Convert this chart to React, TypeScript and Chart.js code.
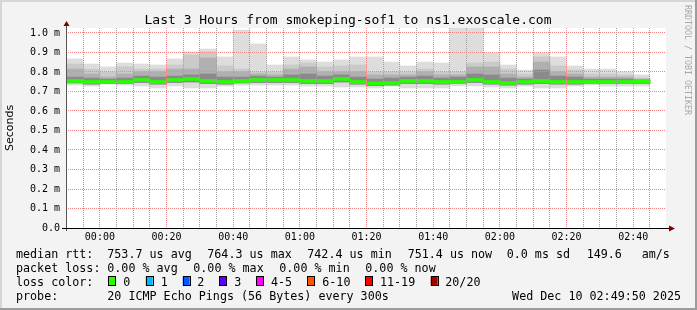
import React, { useEffect, useRef } from "react";
import { Chart, registerables } from "chart.js";

Chart.register(...registerables);

// ---------- data ----------
const graphTitle = "Last 3 Hours from smokeping-sof1 to ns1.exoscale.com";
const rangeStart = "23:49:50";
const rangeEnd = "02:49:50";

// 5-minute RRD steps (start time of each step)
const binStarts = [
  "23:50", "23:55", "00:00", "00:05", "00:10", "00:15", "00:20", "00:25", "00:30", "00:35",
  "00:40", "00:45", "00:50", "00:55", "01:00", "01:05", "01:10", "01:15", "01:20", "01:25",
  "01:30", "01:35", "01:40", "01:45", "01:50", "01:55", "02:00", "02:05", "02:10", "02:15",
  "02:20", "02:25", "02:30", "02:35", "02:40",
];
// 5-minute grid lines
const minorGridTimes = [
  "23:55", "00:00", "00:05", "00:10", "00:15", "00:20", "00:25", "00:30", "00:35", "00:40",
  "00:45", "00:50", "00:55", "01:00", "01:05", "01:10", "01:15", "01:20", "01:25", "01:30",
  "01:35", "01:40", "01:45", "01:50", "01:55", "02:00", "02:05", "02:10", "02:15", "02:20",
  "02:25", "02:30", "02:35", "02:40", "02:45",
];

// values in milliseconds
const medianRtt = [
  0.754, 0.749, 0.749, 0.749, 0.759, 0.749, 0.759, 0.764, 0.754, 0.749,
  0.754, 0.759, 0.759, 0.759, 0.754, 0.754, 0.764, 0.749, 0.742, 0.744,
  0.754, 0.754, 0.749, 0.749, 0.759, 0.749, 0.744, 0.749, 0.754, 0.749,
  0.749, 0.749, 0.749, 0.749, 0.751,
];
const smokeTop = [
  0.867, 0.841, 0.826, 0.846, 0.841, 0.836, 0.867, 0.903, 0.918, 0.877,
  1.015, 0.944, 0.836, 0.877, 0.862, 0.851, 0.862, 0.877, 0.877, 0.851,
  0.831, 0.851, 0.846, 1.090, 1.070, 0.897, 0.836, 0.810, 0.897, 0.877,
  0.831, 0.815, 0.815, 0.800, 0.785,
];
const smokeUpper = [
  0.841, 0.815, 0.800, 0.826, 0.815, 0.815, 0.836, 0.887, 0.903, 0.831,
  0.815, 0.800, 0.800, 0.836, 0.846, 0.826, 0.831, 0.836, 0.800, 0.800,
  0.800, 0.815, 0.800, 0.800, 0.846, 0.851, 0.815, 0.790, 0.877, 0.831,
  0.810, 0.790, 0.790, 0.785, 0.769,
];
const smokeMid = [
  0.815, 0.790, 0.774, 0.790, 0.800, 0.800, 0.815, 0.815, 0.872, 0.800,
  0.800, 0.790, 0.785, 0.815, 0.826, 0.800, 0.800, 0.800, 0.785, 0.785,
  0.785, 0.800, 0.785, 0.785, 0.826, 0.826, 0.790, 0.774, 0.851, 0.800,
  0.790, 0.774, 0.774, 0.774, 0.764,
];
const smokeInner = [
  0.774, 0.769, 0.764, 0.769, 0.779, 0.774, 0.779, 0.785, 0.790, 0.774,
  0.774, 0.779, 0.774, 0.785, 0.790, 0.779, 0.785, 0.774, 0.764, 0.769,
  0.774, 0.779, 0.769, 0.774, 0.790, 0.785, 0.769, 0.764, 0.810, 0.779,
  0.774, 0.764, 0.764, 0.764, 0.759,
];
const smokeLowInner = [
  0.744, 0.738, 0.741, 0.740, 0.746, 0.738, 0.746, 0.749, 0.741, 0.738,
  0.744, 0.746, 0.746, 0.746, 0.741, 0.741, 0.749, 0.738, 0.730, 0.733,
  0.741, 0.741, 0.738, 0.741, 0.746, 0.738, 0.733, 0.738, 0.741, 0.738,
  0.738, 0.741, 0.741, 0.741, 0.741,
];
const smokeBottom = [
  0.733, 0.728, 0.738, 0.733, 0.728, 0.718, 0.728, 0.718, 0.718, 0.728,
  0.733, 0.733, 0.733, 0.733, 0.728, 0.728, 0.723, 0.723, 0.718, 0.728,
  0.718, 0.718, 0.718, 0.728, 0.728, 0.723, 0.718, 0.728, 0.718, 0.718,
  0.728, 0.733, 0.728, 0.728, 0.728,
];

const yTickValues = [0, 0.1, 0.2, 0.3, 0.4, 0.5, 0.6, 0.7, 0.8, 0.9, 1.0];
const yTickLabels = ["0.0", "0.1 m", "0.2 m", "0.3 m", "0.4 m", "0.5 m", "0.6 m", "0.7 m", "0.8 m", "0.9 m", "1.0 m"];
const xTickLabels = ["00:00", "00:20", "00:40", "01:00", "01:20", "01:40", "02:00", "02:20", "02:40"];

const lossLabels = ["0", "1", "2", "3", "4-5", "6-10", "11-19", "20/20"];
const lossColors = ["#26ff00", "#00b8ff", "#0059ff", "#5e00ff", "#ff00ff", "#ff5500", "#ff0000", "#a10000"];

const legendRtt = ["median rtt:", "753.7 us avg", "764.3 us max", "742.4 us min", "751.4 us now", "0.0 ms sd", "149.6", "am/s"];
const legendLoss = ["packet loss:", "0.00 % avg", "0.00 % max", "0.00 % min", "0.00 % now"];
const probeText = ["probe:", "20 ICMP Echo Pings (56 Bytes) every 300s", "Wed Dec 10 02:49:50 2025"];
const watermark = "RRDTOOL / TOBI OETIKER";

// ---------- layout / style ----------
const W = 697;
const H = 310;
const PLOT_TOP = 28;
const PLOT_BOTTOM = 228;
const MONO = "'DejaVu Sans Mono', 'Liberation Mono', monospace";
const SANS = "'DejaVu Sans', 'Liberation Sans', sans-serif";
const MEDIAN_HALF = 0.0075;
const MAJOR_GRID = "rgb(240,135,135)";
const MINOR_GRID = "rgb(160,160,160)";

function toMinutes(t: string): number {
  const p = t.split(":").map(Number);
  let m = p[0] * 60 + p[1] + (p[2] || 0) / 60;
  if (p[0] >= 12) m -= 1440;
  return m;
}

function bars(lo: number[], hi: number[]) {
  return binStarts.map((t, i) => ({ x: toMinutes(t) + 2.5, y: [lo[i], hi[i]] }));
}

const decorPlugin = {
  id: "decor",
  beforeDraw(chart: any) {
    const { ctx, chartArea: a } = chart;
    ctx.save();
    ctx.fillStyle = "#f3f3f3";
    ctx.fillRect(0, 0, W, H);
    ctx.fillStyle = "#ffffff";
    ctx.fillRect(a.left, a.top, a.right - a.left, a.bottom - a.top);
    ctx.restore();
  },
  afterDatasetsDraw(chart: any) {
    // vertical time grid, positioned by the x scale
    const { ctx, chartArea: a } = chart;
    const xs = chart.scales.x;
    const top = Math.round(a.top);
    const bottom = Math.round(a.bottom);
    const majors = new Set(xTickLabels);
    ctx.save();
    ctx.lineWidth = 1;
    ctx.setLineDash([1, 1]);
    minorGridTimes.forEach((t) => {
      const px = Math.floor(xs.getPixelForValue(toMinutes(t)) + 0.01) + 0.5;
      ctx.strokeStyle = majors.has(t) ? MAJOR_GRID : MINOR_GRID;
      ctx.beginPath();
      ctx.moveTo(px, top);
      ctx.lineTo(px, bottom);
      ctx.stroke();
    });
    ctx.restore();
  },
  afterDraw(chart: any) {
    const { ctx, chartArea: a } = chart;
    ctx.save();
    // axes
    ctx.strokeStyle = "#555555";
    ctx.lineWidth = 1;
    ctx.beginPath();
    ctx.moveTo(Math.floor(a.left) + 0.5, a.bottom + 3);
    ctx.lineTo(Math.floor(a.left) + 0.5, a.top - 4);
    ctx.stroke();
    ctx.strokeStyle = "#000000";
    ctx.beginPath();
    ctx.moveTo(a.left - 4, Math.floor(a.bottom) + 0.5);
    ctx.lineTo(a.right + 6, Math.floor(a.bottom) + 0.5);
    ctx.stroke();
    // arrows
    ctx.fillStyle = "#7f0000";
    const ax = Math.floor(a.left) + 0.5;
    ctx.beginPath();
    ctx.moveTo(ax - 3, a.top - 2);
    ctx.lineTo(ax + 3, a.top - 2);
    ctx.lineTo(ax, a.top - 7);
    ctx.closePath();
    ctx.fill();
    const ay = Math.floor(a.bottom) + 0.5;
    ctx.beginPath();
    ctx.moveTo(a.right + 3, ay - 3);
    ctx.lineTo(a.right + 3, ay + 3);
    ctx.lineTo(a.right + 9, ay);
    ctx.closePath();
    ctx.fill();

    // title
    ctx.fillStyle = "#000";
    ctx.font = `13px ${MONO}`;
    ctx.textAlign = "center";
    ctx.textBaseline = "alphabetic";
    ctx.fillText(graphTitle, 348, 23.5);

    // legend
    ctx.font = `11.7px ${MONO}`;
    ctx.textAlign = "left";
    const rttX = [16, 107.3, 207.3, 307.3, 407.7, 506.7, 586.7, 641.7];
    legendRtt.forEach((s, i) => ctx.fillText(s, rttX[i], 258));
    const lossX = [16, 107.3, 193.3, 279.3, 365.3];
    legendLoss.forEach((s, i) => ctx.fillText(s, lossX[i], 272));
    ctx.fillText("loss color:", 16, 286);
    const boxX = [108.3, 145.7, 182.7, 219.3, 256, 307.3, 365.3, 430.7];
    const labX = [123.3, 160.7, 197.3, 234.3, 271, 322.3, 380, 445.3];
    lossLabels.forEach((s, i) => {
      ctx.fillStyle = lossColors[i];
      ctx.fillRect(boxX[i], 276.5, 7, 9);
      ctx.strokeStyle = "#000";
      ctx.strokeRect(Math.round(boxX[i]) + 0.5, 276.5, 7, 9);
      ctx.fillStyle = "#000";
      ctx.fillText(s, labX[i], 286);
    });
    ctx.fillText(probeText[0], 16, 300);
    ctx.fillText(probeText[1], 107.3, 300);
    ctx.textAlign = "right";
    ctx.fillText(probeText[2], 681, 300);

    // watermark
    ctx.save();
    ctx.translate(687, 5);
    ctx.rotate(Math.PI / 2);
    ctx.font = `8.3px ${MONO}`;
    ctx.fillStyle = "#a8a8a8";
    ctx.textAlign = "left";
    ctx.textBaseline = "middle";
    ctx.fillText(watermark, 0, 0);
    ctx.restore();

    // 3d frame
    ctx.fillStyle = "#d6d6d6";
    ctx.fillRect(0, 0, W, 2);
    ctx.fillRect(0, 0, 2, H);
    ctx.fillStyle = "#9c9c9c";
    ctx.fillRect(W - 2, 0, 2, H);
    ctx.fillRect(0, H - 2, W, 2);
    ctx.restore();
  },
};

export default function App() {
  const ref = useRef<HTMLCanvasElement>(null);

  useEffect(() => {
    const canvas = ref.current;
    if (!canvas) return;
    const xMin = toMinutes(rangeStart);
    const xMax = toMinutes(rangeEnd);
    const majorValues = xTickLabels.map(toMinutes);

    const layers = [
      { lo: smokeBottom, hi: smokeTop, color: "#dddddd" },
      { lo: smokeLowInner, hi: smokeUpper, color: "#cacaca" },
      { lo: smokeLowInner, hi: smokeMid, color: "#b0b0b0" },
      { lo: smokeLowInner, hi: smokeInner, color: "#8a8a8a" },
    ];
    const datasets: any[] = layers.map((l, i) => ({
      label: "smoke" + i,
      data: bars(l.lo, l.hi),
      backgroundColor: l.color,
      borderWidth: 0,
      grouped: false,
      barPercentage: 1,
      categoryPercentage: 1,
      order: 10 - i,
    }));
    datasets.push({
      label: "median",
      data: bars(
        medianRtt.map((m) => m - MEDIAN_HALF),
        medianRtt.map((m) => m + MEDIAN_HALF)
      ),
      backgroundColor: lossColors[0],
      borderWidth: 0,
      grouped: false,
      barPercentage: 1,
      categoryPercentage: 1,
      order: 0,
    });

    const chart = new Chart(canvas, {
      type: "bar",
      data: { datasets },
      plugins: [decorPlugin],
      options: {
        animation: false,
        responsive: false,
        devicePixelRatio: 1,
        events: [],
        layout: { padding: { left: 0, right: W - 666, top: PLOT_TOP, bottom: 0 } },
        plugins: { legend: { display: false }, tooltip: { enabled: false }, title: { display: false } },
        scales: {
          x: {
            type: "linear",
            min: xMin,
            max: xMax,
            offset: false,
            afterFit: (s: any) => { s.height = H - PLOT_BOTTOM; },
            afterBuildTicks: (s: any) => { s.ticks = majorValues.map((v) => ({ value: v })); },
            grid: { display: false, offset: false, drawTicks: false },
            border: { display: false },
            ticks: {
              autoSkip: false,
              maxRotation: 0,
              padding: 3.7,
              color: "#000",
              font: { family: MONO, size: 10 },
              callback: (_v: any, i: number) => xTickLabels[i] ?? "",
            },
          },
          y: {
            type: "linear",
            min: 0,
            max: (PLOT_BOTTOM - PLOT_TOP) / 195,
            afterFit: (s: any) => { s.width = 66; },
            afterBuildTicks: (s: any) => { s.ticks = yTickValues.map((v) => ({ value: v })); },
            grid: {
              z: 1,
              drawTicks: false,
              color: MAJOR_GRID,
              lineWidth: 1,
            },
            border: { display: false, dash: [1, 1] },
            title: {
              display: true,
              text: "Seconds",
              color: "#000",
              font: { family: SANS, size: 11 },
              padding: { top: 4, bottom: 0 },
            },
            ticks: {
              padding: 6,
              color: "#000",
              font: { family: MONO, size: 10 },
              callback: (_v: any, i: number) => yTickLabels[i],
            },
          },
        },
      } as any,
    });
    return () => chart.destroy();
  }, []);

  return (
    <div style={{ position: "fixed", left: 0, top: 0, width: W, height: H }}>
      <canvas ref={ref} width={W} height={H} style={{ display: "block", width: W, height: H }} />
    </div>
  );
}
